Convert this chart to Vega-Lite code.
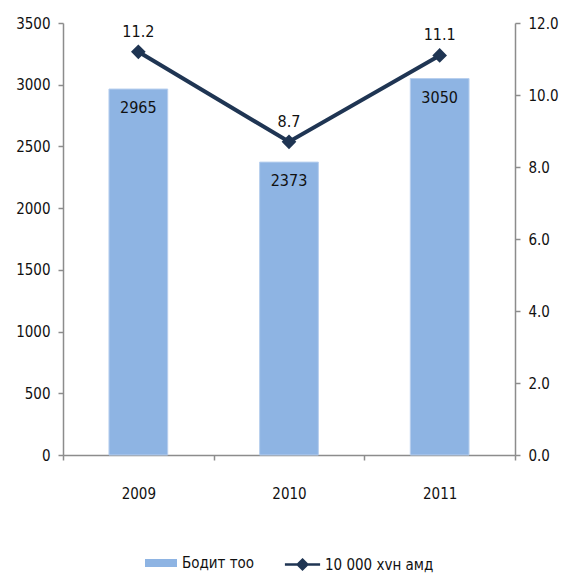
{
  "$schema": "https://vega.github.io/schema/vega-lite/v6.json",
  "width": 452,
  "height": 432,
  "autosize": {"type": "none"},
  "padding": {"left": 63, "top": 23, "right": 48, "bottom": 119},
  "background": "white",
  "config": {
    "view": {"stroke": null},
    "font": "'DejaVu Sans Condensed', 'Liberation Sans', sans-serif",
    "axis": {"labelFont": "'DejaVu Sans Condensed', 'Liberation Sans', sans-serif", "labelFontSize": 15, "labelColor": "#111", "domainColor": "#8c8c8c", "tickColor": "#8c8c8c", "grid": false, "title": null, "tickSize": 5, "domainWidth": 1.5, "tickWidth": 1.5},
    "legend": {"orient": "bottom", "direction": "horizontal", "title": null, "labelFontSize": 15, "labelFont": "'DejaVu Sans Condensed', 'Liberation Sans', sans-serif", "labelColor": "#111", "symbolSize": 1024, "labelOffset": 5, "offset": 46, "layout": {"bottom": {"anchor": "middle", "direction": "horizontal", "margin": 30}}},
    "text": {"font": "'DejaVu Sans Condensed', 'Liberation Sans', sans-serif", "fontSize": 16, "color": "#111"}
  },
  "data": {"values": [
    {"year": "2009", "count": 2965, "rate": 11.2, "rateLabel": "11.2"},
    {"year": "2010", "count": 2373, "rate": 8.7, "rateLabel": "8.7"},
    {"year": "2011", "count": 3050, "rate": 11.1, "rateLabel": "11.1"}
  ]},
  "encoding": {
    "x": {"field": "year", "type": "nominal", "scale": {"paddingInner": 0, "paddingOuter": 0},
      "axis": {"labelAngle": 0, "tickBand": "extent", "labelPadding": 26, "tickSize": 5}}
  },
  "layer": [
    {
      "layer": [
        {"mark": {"type": "bar", "width": {"band": 0.39}, "stroke": "#b8cfee", "strokeWidth": 1},
          "encoding": {
            "y": {"field": "count", "type": "quantitative", "scale": {"domain": [0, 3500]}, "axis": {"values": [0, 500, 1000, 1500, 2000, 2500, 3000, 3500], "format": "d", "labelPadding": 8}},
            "fill": {"datum": "Бодит тоо", "type": "nominal",
              "scale": {"domain": ["Бодит тоо"], "range": ["#8EB4E3"]},
              "legend": {"symbolType": "M-1,-0.25L1,-0.25L1,0.25L-1,0.25Z", "symbolStrokeWidth": 0}
            }
          }
        },
        {"mark": {"type": "text", "baseline": "middle", "dy": 19},
          "encoding": {
            "y": {"field": "count", "type": "quantitative"},
            "text": {"field": "count", "type": "quantitative", "format": "d"}
          }
        }
      ]
    },
    {
      "layer": [
        {"mark": {"type": "line", "strokeWidth": 4, "point": {"shape": "diamond", "size": 140, "filled": true, "color": "#1F3553"}},
          "encoding": {
            "y": {"field": "rate", "type": "quantitative", "scale": {"domain": [0, 12]}, "axis": {"orient": "right", "values": [0, 2, 4, 6, 8, 10, 12], "format": ".1f", "labelPadding": 8}},
            "stroke": {"datum": "10 000 хvн амд", "type": "nominal",
              "scale": {"domain": ["10 000 хvн амд"], "range": ["#1F3553"]},
              "legend": {"symbolType": "M-1.1,0L1.1,0M0,-0.3L0.3,0L0,0.3L-0.3,0Z", "symbolFillColor": "#1F3553", "symbolStrokeWidth": 2.5, "symbolStrokeColor": "#1F3553"}
            }
          }
        },
        {"mark": {"type": "text", "baseline": "middle", "dy": -20},
          "encoding": {
            "y": {"field": "rate", "type": "quantitative"},
            "text": {"field": "rateLabel", "type": "nominal"}
          }
        }
      ]
    }
  ],
  "resolve": {"scale": {"y": "independent"}}
}
